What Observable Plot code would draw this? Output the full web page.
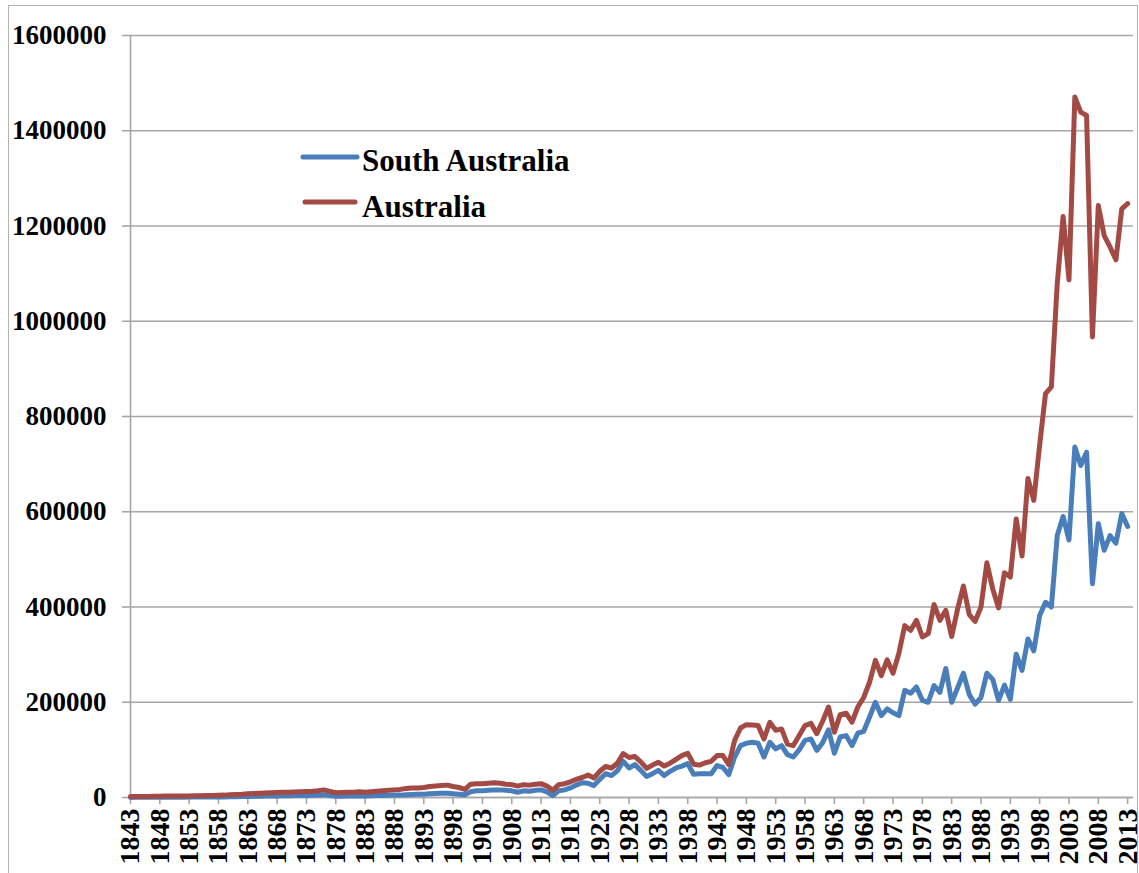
<!DOCTYPE html>
<html><head><meta charset="utf-8">
<script src="https://cdn.jsdelivr.net/npm/d3@7"></script>
<script src="https://cdn.jsdelivr.net/npm/@observablehq/plot@0.6"></script>
<style>
html,body{margin:0;padding:0;background:#fff;}
#wrap{position:relative;width:1139px;height:873px;overflow:hidden;background:#fff;}
#border{position:absolute;left:8px;top:5px;width:1130px;height:900px;border:1.5px solid #b3b3b3;box-sizing:border-box;}
#chart{position:absolute;left:0;top:0;}
#legend{position:absolute;left:0;top:0;}
</style></head>
<body><div id="wrap"><div id="border"></div><div id="chart"></div><svg id="legend" width="1139" height="873"></svg></div>
<script>
const firstYear = 1843, lastYear = 2013;
const years = d3.range(firstYear, lastYear + 1);
const seriesNames = ["South Australia", "Australia"];
const seriesColors = ["#4A7EBB", "#A24A43"];
const yTicks = [0, 200000, 400000, 600000, 800000, 1000000, 1200000, 1400000, 1600000];
const xTicks = d3.range(1843, 2014, 5);

const southAustralia = [
 0,500,500,500,500,500,600,600,700,700,   // 1843-1852
 800,800,800,900,900,1000,1000,1500,1500,2000, // 1853-1862
 2000,2500,2500,3000,3000,3000,3500,3500,4000,4000, // 1863-1872
 4000,4500,5000,6000,4000,2500,2500,3000,3000,3500, // 1873-1882
 3000,3500,4000,4000,4500,5000,5000,6000,6500,7000, // 1883-1892
 7000,8000,8500,9000,9000,8000,7000,6000,12000,14000, // 1893-1902
 14000,15000,16000,16000,15000,14000,11000,14000,13000,15000, // 1903-1912
 16000,12000,4000,14000,16000,20000,26000,31000,30000,25000, // 1913-1922
 38000,50000,46000,56000,76000,62000,69000,57000,44000,50000, // 1923-1932
 57000,46000,55000,62000,66000,71000,49000,50000,50000,50000, // 1933-1942
 67000,63000,48000,85000,109000,114000,116000,114000,85000,116000, // 1943-1952
 102000,109000,90000,85000,100000,120000,123000,99000,115000,142000, // 1953-1962
 93000,127000,130000,109000,135000,139000,169000,200000,172000,186000, // 1963-1972
 178000,172000,225000,219000,232000,204000,200000,235000,221000,271000, // 1973-1982
 200000,230000,261000,216000,196000,210000,261000,248000,204000,236000, // 1983-1992
 206000,301000,267000,333000,308000,382000,410000,400000,550000,590000, // 1993-2002
 541000,736000,697000,725000,449000,575000,519000,550000,534000,596000, // 2003-2012
 569000 // 2013
];

const australia = [
 2000,2000,2000,2000,2500,2500,3000,3000,3000,3000, // 1843-1852
 3000,3500,3500,4000,4000,4500,5000,6000,6500,7000, // 1853-1862
 8000,8500,9000,9500,10000,10500,11000,11000,11500,12000, // 1863-1872
 12500,13000,14000,16000,13000,10000,10500,11000,11000,12000, // 1873-1882
 11000,12000,13000,14000,15000,16000,17000,19000,20000,20000, // 1883-1892
 21000,23000,24000,25000,26000,23000,21000,17000,28000,29000, // 1893-1902
 29000,30000,31000,30000,28000,27000,24000,27000,26000,28000, // 1903-1912
 29000,24000,15000,27000,29000,33000,38000,42000,47000,41000, // 1913-1922
 55000,65000,62000,72000,92000,84000,86000,75000,61000,68000, // 1923-1932
 74000,66000,72000,80000,88000,93000,70000,68000,73000,76000, // 1933-1942
 88000,88000,69000,120000,146000,153000,152000,151000,123000,158000, // 1943-1952
 141000,144000,112000,109000,130000,151000,156000,134000,160000,190000, // 1953-1962
 137000,174000,177000,158000,190000,210000,242000,288000,256000,289000, // 1963-1972
 261000,303000,361000,351000,372000,337000,344000,405000,372000,393000, // 1973-1982
 338000,395000,444000,384000,370000,400000,493000,438000,398000,472000, // 1983-1992
 463000,585000,507000,670000,624000,740000,848000,862000,1079000,1220000, // 1993-2002
 1087000,1471000,1439000,1432000,967000,1243000,1180000,1156000,1129000,1236000, // 2003-2012
 1247000 // 2013
];

const table = [];
years.forEach((yr, i) => {
  table.push({year: yr, value: southAustralia[i], series: seriesNames[0]});
});
years.forEach((yr, i) => {
  table.push({year: yr, value: australia[i], series: seriesNames[1]});
});

const font = "'Liberation Serif', 'Times New Roman', serif";
const gridColor = "#a6a6a6";

const chart = Plot.plot({
  width: 1139,
  height: 873,
  marginLeft: 130,
  marginRight: 6,
  marginTop: 35,
  marginBottom: 76,
  style: {fontFamily: font, fontWeight: "bold", background: "transparent", color: "#000"},
  x: {domain: [firstYear, lastYear + 1]},
  y: {domain: [0, 1600000]},
  color: {domain: seriesNames, range: seriesColors},
  marks: [
    Plot.gridY(yTicks, {stroke: gridColor, strokeOpacity: 1, strokeWidth: 1.6}),
    Plot.ruleX([firstYear], {stroke: gridColor, strokeWidth: 1.6}),
    Plot.ruleY([0], {stroke: gridColor, strokeWidth: 1.6}),
    Plot.axisY(yTicks, {tickFormat: d => String(d), tickSize: 8, tickPadding: 16, fontSize: 27, fontWeight: "bold", stroke: gridColor, strokeWidth: 1.6, strokeOpacity: 1, label: null, color: "#000"}),
    Plot.axisX(xTicks, {tickFormat: d => String(d), tickSize: 7, tickPadding: 4, tickRotate: -90, fontSize: 28, fontWeight: "bold", stroke: gridColor, strokeWidth: 1.6, strokeOpacity: 1, label: null}),
    Plot.line(table, {x: "year", y: "value", z: "series", stroke: "series", strokeWidth: 5, strokeLinejoin: "round", strokeLinecap: "round"})
  ]
});
chart.querySelectorAll("text").forEach(t => t.setAttribute("fill", "#000"));
document.getElementById("chart").appendChild(chart);

// legend
const lg = d3.select("#legend");
const legendItems = [
  {name: seriesNames[0], color: seriesColors[0], x1: 303, x2: 357, y: 157, ty: 171},
  {name: seriesNames[1], color: seriesColors[1], x1: 305, x2: 355, y: 202, ty: 217}
];
legendItems.forEach(it => {
  lg.append("line").attr("x1", it.x1).attr("x2", it.x2).attr("y1", it.y).attr("y2", it.y)
    .attr("stroke", it.color).attr("stroke-width", 5).attr("stroke-linecap", "round");
  lg.append("text").attr("x", 362).attr("y", it.ty).text(it.name)
    .attr("font-family", font).attr("font-weight", "bold").attr("font-size", 31).attr("fill", "#000");
});
</script>
</body></html>
